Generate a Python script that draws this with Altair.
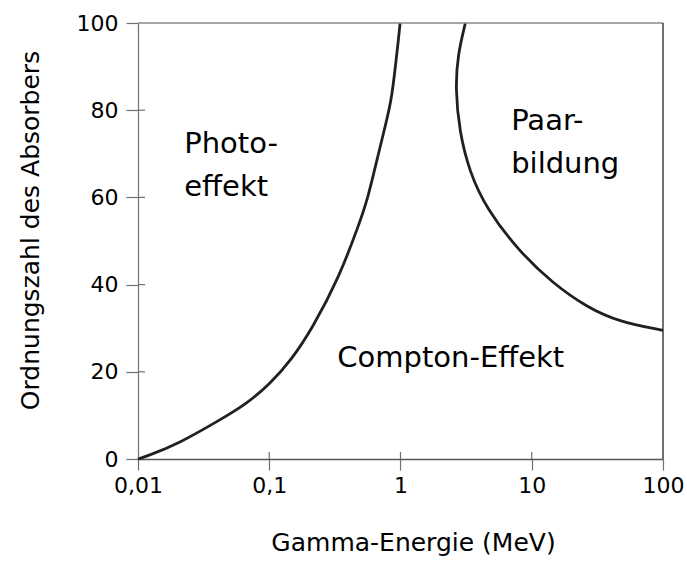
import altair as alt
import pandas as pd

# Photo-effect / Compton boundary (energy in MeV, atomic number)
photo_E = [0.01, 0.0116, 0.0206, 0.0417, 0.0669, 0.102, 0.148, 0.213, 0.342, 0.486, 0.559, 0.690, 0.767, 0.853, 0.914, 0.964, 0.993]
photo_Z = [0.0, 0.6, 3.6, 8.9, 12.6, 17.3, 22.8, 30.0, 41.7, 54.1, 59.3, 70.9, 76.5, 82.3, 90.0, 96.1, 100.0]

# Pair production / Compton boundary
pair_E = [3.12, 2.73, 2.62, 2.81, 3.35, 4.49, 8.06, 14.5, 26.0, 46.6, 100.0]
pair_Z = [100.0, 92.7, 85.0, 75.1, 65.9, 57.5, 47.5, 40.3, 34.9, 31.4, 29.5]

# Region labels (anchored at data coordinates)
label_text = ["Photo-\neffekt", "Paar-\nbildung", "Compton-Effekt"]
label_E = [0.0225, 6.97, 0.330]
label_Z = [70.2, 75.4, 21.0]

x_ticks = [0.01, 0.1, 1, 10, 100]
y_ticks = [0, 20, 40, 60, 80, 100]

W, H = 525, 436
FONT = "DejaVu Sans"
AX = "#6f6f6f"

photo = pd.DataFrame({"E": photo_E, "Z": photo_Z, "i": range(len(photo_E))})
pair = pd.DataFrame({"E": pair_E, "Z": pair_Z, "i": range(len(pair_E))})
labels = pd.DataFrame({"t": label_text, "E": label_E, "Z": label_Z})
xt = pd.DataFrame({"E": x_ticks[1:-1]})
yt = pd.DataFrame({"Z": y_ticks[1:-1]})

xscale = alt.Scale(type="log", domain=[0.01, 100])
yscale = alt.Scale(domain=[0, 100])

x_axis = alt.Axis(
    values=x_ticks,
    labelExpr="replace(toString(datum.value), '.', ',')",
    tickSize=11, tickColor=AX, tickWidth=1.2,
    domainColor="#555555", domainWidth=1.3,
    labelFont=FONT, labelFontSize=22, labelColor="black", labelPadding=5,
    title="Gamma-Energie (MeV)", titleFont=FONT, titleFontSize=25,
    titleFontWeight="normal", titleColor="black", titlePadding=34, titleX=275,
    grid=False, labelOverlap=False, labelFlush=False,
)
y_axis = alt.Axis(
    values=y_ticks,
    tickSize=12, tickColor=AX, tickWidth=1.2,
    domainColor="#7a7a7a", domainWidth=1.3,
    labelFont=FONT, labelFontSize=22, labelColor="black", labelPadding=8,
    title="Ordnungszahl des Absorbers", titleFont=FONT, titleFontSize=25,
    titleFontWeight="normal", titleColor="black", titlePadding=33, titleY=207,
    grid=False, labelOverlap=False,
)

X = alt.X("E:Q", scale=xscale, axis=x_axis)
Y = alt.Y("Z:Q", scale=yscale, axis=y_axis)

photo_line = alt.Chart(photo).mark_line(
    color="#231f20", strokeWidth=2.8, interpolate="basis"
).encode(x=X, y=Y, order="i:O")

pair_line = alt.Chart(pair).mark_line(
    color="#231f20", strokeWidth=2.8, interpolate="basis"
).encode(x=X, y=Y, order="i:O")

text = alt.Chart(labels).mark_text(
    align="left", baseline="alphabetic", font=FONT, fontSize=29,
    lineBreak="\n", lineHeight=43, color="black",
).encode(x=X, y=Y, text="t:N")

x_in = alt.Chart(xt).mark_rule(color=AX, strokeWidth=1.2).encode(
    x=X, y=alt.value(H - 7), y2=alt.value(H),
)
y_in = alt.Chart(yt).mark_rule(color=AX, strokeWidth=1.2).encode(
    y=Y, x=alt.value(0), x2=alt.value(7),
)

top_line = alt.Chart(pd.DataFrame({"a": [0]})).mark_rule(color="#8a8a8a", strokeWidth=1.3).encode(
    x=alt.value(0), x2=alt.value(W), y=alt.value(0)
)
right_line = alt.Chart(pd.DataFrame({"a": [0]})).mark_rule(color="#222222", strokeWidth=1.3).encode(
    x=alt.value(W), y=alt.value(0), y2=alt.value(H)
)

chart = alt.layer(
    photo_line, pair_line, text, x_in, y_in, top_line, right_line
).properties(
    width=W, height=H,
    autosize="none",
    padding={"left": 138, "top": 23, "right": 687 - 138 - W, "bottom": 562 - 23 - H},
    background="white",
).configure_view(stroke=None)

chart.save("out.html", embed_options={"renderer": "svg", "actions": False})
